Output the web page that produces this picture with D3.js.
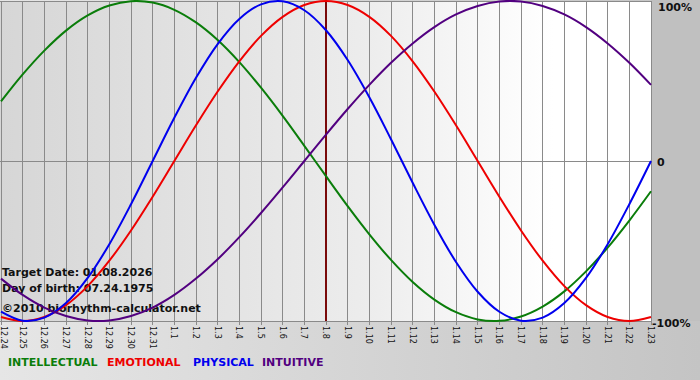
<!DOCTYPE html>
<html><head><meta charset="utf-8">
<script src="https://cdn.jsdelivr.net/npm/d3@7"></script>
<style>html,body{margin:0;padding:0;background:#fff;}svg{display:block;}</style>
</head><body>
<svg id="c" width="700" height="380"></svg>
<script>
const days = ["12.24","12.25","12.26","12.27","12.28","12.29","12.30","12.31","1.1","1.2","1.3","1.4","1.5","1.6","1.7","1.8","1.9","1.10","1.11","1.12","1.13","1.14","1.15","1.16","1.17","1.18","1.19","1.20","1.21","1.22","1.23"];
const intellectual = [0.372,0.541,0.690,0.815,0.910,0.972,0.999,0.990,0.945,0.866,0.756,0.618,0.458,0.282,0.095,-0.095,-0.282,-0.458,-0.618,-0.756,-0.866,-0.945,-0.990,-0.999,-0.972,-0.910,-0.815,-0.690,-0.541,-0.372,-0.189];
const emotional = [-0.975,-1,-0.975,-0.901,-0.782,-0.623,-0.434,-0.223,0,0.223,0.434,0.623,0.782,0.901,0.975,1,0.975,0.901,0.782,0.623,0.434,0.223,0,-0.223,-0.434,-0.623,-0.782,-0.901,-0.975,-1,-0.975];
const physical = [-0.942,-0.998,-0.979,-0.888,-0.731,-0.520,-0.270,0,0.270,0.520,0.731,0.888,0.979,0.998,0.942,0.817,0.631,0.398,0.136,-0.136,-0.398,-0.631,-0.817,-0.942,-0.998,-0.979,-0.888,-0.731,-0.520,-0.270,0];
const intuitive = [-0.735,-0.837,-0.916,-0.969,-0.997,-0.997,-0.969,-0.916,-0.837,-0.735,-0.614,-0.476,-0.325,-0.165,0,0.165,0.325,0.476,0.614,0.735,0.837,0.916,0.969,0.997,0.997,0.969,0.916,0.837,0.735,0.614,0.476];
const seriesNames = ["INTELLECTUAL","EMOTIONAL","PHYSICAL","INTUITIVE"];
const seriesColors = ["#0a7d0a","#ee0000","#0000ee","#520080"];
const yTickValues = [1,0,-1];
const yTickLabels = ["100%","0","-100%"];
const targetDay = "1.8";
const infoLines = ["Target Date: 01.08.2026","Day of birth: 07.24.1975","\u00a92010 biorhythm-calculator.net"];

const svg = d3.select("#c");
const L=1, R=651, T=1, B=321;
const x = d3.scalePoint().domain(days).range([L,R]);
const y = d3.scaleLinear().domain([-1,1]).range([B,T]);
const font = "'DejaVu Sans', Verdana, sans-serif";

const defs = svg.append("defs");
const g1 = defs.append("linearGradient").attr("id","plotbg").attr("x1","0").attr("x2","1").attr("y1","0").attr("y2","0");
g1.append("stop").attr("offset","0").attr("stop-color","#d6d6d6");
g1.append("stop").attr("offset","0.55").attr("stop-color","#ececec");
g1.append("stop").attr("offset","0.85").attr("stop-color","#ffffff");
g1.append("stop").attr("offset","1").attr("stop-color","#ffffff");
const g2 = defs.append("linearGradient").attr("id","botbg").attr("x1","0").attr("x2","1").attr("y1","0").attr("y2","0");
g2.append("stop").attr("offset","0").attr("stop-color","#e6e6e6");
g2.append("stop").attr("offset","1").attr("stop-color","#c4c4c4");

svg.append("rect").attr("x",0).attr("y",0).attr("width",700).attr("height",380).attr("fill","url(#botbg)");
svg.append("rect").attr("x",R).attr("y",0).attr("width",700-R).attr("height",B).attr("fill","#c0c0c0");
svg.append("rect").attr("x",0).attr("y",T).attr("width",R).attr("height",B-T).attr("fill","url(#plotbg)");

// vertical grid
svg.append("g").selectAll("line").data(days).join("line")
  .attr("x1",d=>x(d)).attr("x2",d=>x(d)).attr("y1",T).attr("y2",B+4)
  .attr("stroke","#8a8a8a").attr("stroke-width",1).attr("shape-rendering","crispEdges");
// horizontal lines
svg.append("g").selectAll("line").data(yTickValues).join("line")
  .attr("x1",0).attr("x2",R).attr("y1",d=>y(d)).attr("y2",d=>y(d))
  .attr("stroke","#8a8a8a").attr("stroke-width",1).attr("shape-rendering","crispEdges");

// target line
svg.append("line").attr("x1",x(targetDay)).attr("x2",x(targetDay)).attr("y1",T).attr("y2",B)
  .attr("stroke","#7a0a0a").attr("stroke-width",2);

// info text (behind curves)
svg.append("g").selectAll("text").data(infoLines).join("text")
  .attr("x",2).attr("y",(d,i)=>[276,292,312][i])
  .attr("font-family",font).attr("font-size","11px").attr("font-weight","bold").attr("fill","#111")
  .text(d=>d);

// curves
const line = d3.line().x((d,i)=>x(days[i])).y(d=>y(d)).curve(d3.curveCatmullRom);
[intellectual,emotional,physical,intuitive].forEach((s,k)=>{
  svg.append("path").datum(s).attr("d",line).attr("fill","none")
    .attr("stroke",seriesColors[k]).attr("stroke-width",2);
});

// x labels rotated
svg.append("g").selectAll("text").data(days).join("text")
  .attr("transform",d=>`translate(${Math.max(x(d)-3,0.5)},${B+5}) rotate(90)`)
  .attr("font-family",font).attr("font-size","8px").attr("fill","#111")
  .attr("text-anchor","start")
  .text(d=>d);

// y labels
svg.append("g").selectAll("text").data(yTickValues).join("text")
  .attr("x",(d,i)=>[658,657,652][i]).attr("y",(d,i)=>y(d)+[10,5,6][i])
  .attr("font-family",font).attr("font-size","11px").attr("font-weight","bold").attr("fill","#111")
  .text((d,i)=>yTickLabels[i]);

// legend
const legX = [8,107,193,262];
svg.append("g").selectAll("text").data(seriesNames).join("text")
  .attr("x",(d,i)=>legX[i]).attr("y",366)
  .attr("font-family",font).attr("font-size","11px").attr("font-weight","bold").attr("fill",(d,i)=>seriesColors[i])
  .text(d=>d);
</script>
</body></html>
